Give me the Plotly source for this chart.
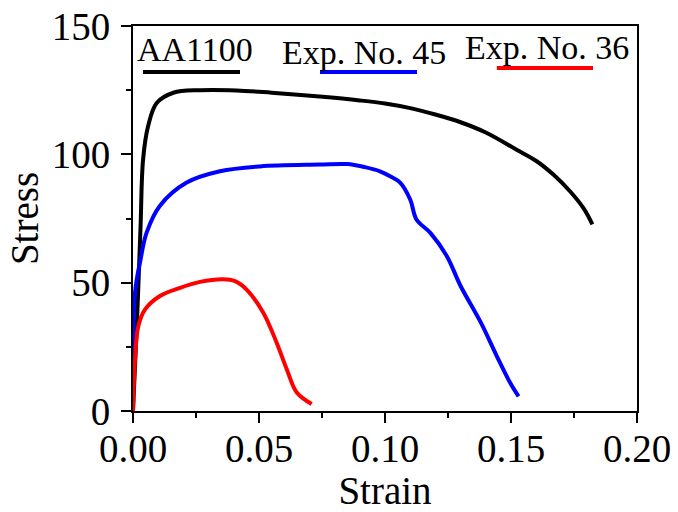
import plotly.graph_objects as go

# ---- data ----
aa_strain = [0, 0.0015, 0.003, 0.004, 0.006, 0.0094, 0.016, 0.0266, 0.041, 0.055, 0.074,
             0.09, 0.10, 0.11, 0.12, 0.13, 0.14, 0.1522, 0.1602, 0.1668, 0.1734, 0.1787, 0.1823]
aa_stress = [0, 33, 72, 98, 111, 120, 124, 125, 124.9, 124, 122.5,
             121, 119.8, 118, 115.5, 112.5, 108.5, 101.8, 97.3, 92.1, 85.6, 79.1, 72.7]

e45_strain = [0, 0.0008, 0.003, 0.0054, 0.0107, 0.0213, 0.0345, 0.0504, 0.074, 0.085, 0.092,
              0.098, 0.102, 0.106, 0.11, 0.1125, 0.118, 0.1245, 0.13, 0.138, 0.1443, 0.1496, 0.153]
e45_stress = [0, 46, 59, 69.5, 80, 89, 93.4, 95.3, 96, 96.2, 95,
              93.4, 91.5, 89, 82.4, 74.6, 69.4, 60.4, 48.7, 34.5, 21.5, 11.1, 5.7]

e36_strain = [0, 0.0008, 0.0021, 0.0048, 0.0107, 0.0187, 0.0266, 0.0358, 0.0405, 0.045,
              0.0517, 0.057, 0.061, 0.065, 0.0709]
e36_stress = [0, 20, 33, 39.6, 44.8, 48, 50.3, 51.3, 50.6, 47.4,
              38.3, 26.6, 16.3, 7.2, 2.7]

series_names = ["AA1100", "Exp. No. 45", "Exp. No. 36"]
series_colors = ["#000000", "#0000ff", "#ff0000"]

x_ticks = [0, 0.05, 0.10, 0.15, 0.20]
y_ticks = [0, 50, 100, 150]

FONT = "Liberation Serif, Times New Roman, serif"

fig = go.Figure()
for xs, ys, name, col in zip([aa_strain, e45_strain, e36_strain],
                             [aa_stress, e45_stress, e36_stress],
                             series_names, series_colors):
    fig.add_trace(go.Scatter(x=xs, y=ys, mode="lines", name=name,
                             line=dict(color=col, width=4, shape="spline", smoothing=1.0),
                             showlegend=False))

# custom legend: text with a coloured line underneath
legend_text = [(0.123, 0.940), (0.459, 0.932), (0.8224, 0.945)]
legend_line = [(0.0198, 0.2123, 0.8805), (0.371, 0.5635, 0.8805), (0.722, 0.9127, 0.891)]
for name, col, (tx, ty), (x0, x1, ly) in zip(series_names, series_colors, legend_text, legend_line):
    fig.add_annotation(text=name, x=tx, y=ty, xref="paper", yref="paper",
                       xanchor="center", yanchor="middle", showarrow=False,
                       font=dict(family=FONT, size=34, color="black"))
    fig.add_shape(type="line", x0=x0, x1=x1, y0=ly, y1=ly, xref="paper", yref="paper",
                  line=dict(color=col, width=4))

axis_common = dict(showline=True, linecolor="black", linewidth=2, mirror=True,
                   ticks="outside", ticklen=10, tickwidth=2, tickcolor="black",
                   showgrid=False, zeroline=False, automargin=False,
                   tickfont=dict(family=FONT, size=39, color="black"),
                   title_font=dict(family=FONT, size=39, color="black"))

fig.update_xaxes(range=[0, 0.2], tickvals=x_ticks, tickformat=".2f", ticklabelstandoff=-8,
                 minor=dict(dtick=0.025, ticks="outside", ticklen=5, tickwidth=2, tickcolor="black"),
                 title_text="Strain", title_standoff=3, **axis_common)
fig.update_yaxes(range=[0, 150], tickvals=y_ticks, ticklabelstandoff=3,
                 minor=dict(dtick=25, ticks="outside", ticklen=5, tickwidth=2, tickcolor="black"),
                 title_text="Stress", title_standoff=1, **axis_common)

fig.update_layout(width=678, height=512, margin=dict(l=133, r=41, t=26, b=101),
                  plot_bgcolor="white", paper_bgcolor="white")

fig.write_html("out.html", config={"displayModeBar": False},
               post_script="document.body.style.margin='0';document.body.style.padding='0';")
